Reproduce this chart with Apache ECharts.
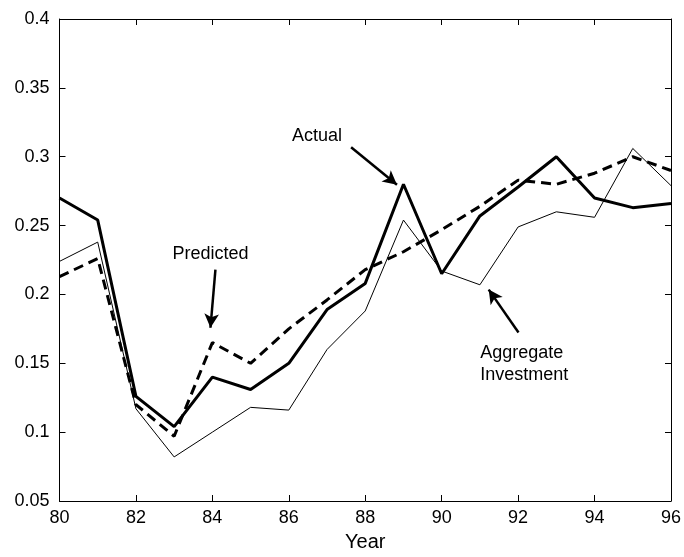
<!DOCTYPE html>
<html>
<head>
<meta charset="utf-8">
<script src="https://cdn.jsdelivr.net/npm/echarts@6/dist/echarts.min.js"></script>
<style>
html,body{margin:0;padding:0;background:#fff;}
#c{width:684px;height:557px;}
</style>
</head>
<body>
<div id="c"></div>
<script>
var years = [80,81,82,83,84,85,86,87,88,89,90,91,92,93,94,95,96];
var actual = [0.270,0.254,0.126,0.104,0.140,0.131,0.150,0.189,0.208,0.280,0.215,0.257,0.278,0.300,0.270,0.263,0.266];
var predicted = [0.213,0.226,0.120,0.097,0.165,0.150,0.175,0.196,0.218,0.231,0.247,0.264,0.283,0.280,0.288,0.300,0.290];
var aggregate = [0.224,0.238,0.117,0.082,0.100,0.118,0.116,0.160,0.188,0.254,0.217,0.207,0.249,0.260,0.256,0.306,0.279];
var xTicks = [80,82,84,86,88,90,92,94,96];
var yTicks = [0.05,0.1,0.15,0.2,0.25,0.3,0.35,0.4];

// annotation positions in data space
var labels = [
  {text:'Actual', x:86.74, y:0.3148, align:'center'},
  {text:'Predicted', x:83.95, y:0.2295, align:'center'},
  {text:'Aggregate\nInvestment', x:91.01, y:0.1493, align:'left'}
];
var arrows = [
  [[87.63,0.3069],[88.83,0.2797]],
  [[84.08,0.2180],[83.95,0.1758]],
  [[92.01,0.1724],[91.23,0.2035]]
];

function pairs(ys){ return years.map(function(x,i){return [x, ys[i]];}); }
var FONT = 'Liberation Sans, Arial, Helvetica, sans-serif';

var chart = echarts.init(document.getElementById('c'), null, {renderer:'canvas'});
var axisCommon = {
  type:'value',
  axisLine:{show:true, lineStyle:{color:'#000', width:1}},
  axisTick:{show:true, inside:true, length:6, lineStyle:{color:'#000'}},
  splitLine:{show:false}
};
chart.setOption({
  backgroundColor:'#fff',
  animation:false,
  grid:{left:59.5, right:11, top:19, bottom:49, containLabel:false},
  xAxis:[
    Object.assign({}, axisCommon, {
      min:80, max:96, interval:2, position:'bottom',
      name:'Year', nameLocation:'middle', nameGap:31,
      nameTextStyle:{fontFamily:FONT, fontSize:20, color:'#000'},
      axisLabel:{fontFamily:FONT, fontSize:18, color:'#000', margin:8,
        formatter:function(v){return xTicks.indexOf(v)>=0 ? String(v) : '';}}
    }),
    Object.assign({}, axisCommon, {
      min:80, max:96, interval:2, position:'top', axisLabel:{show:false}
    })
  ],
  yAxis:[
    Object.assign({}, axisCommon, {
      min:0.05, max:0.4, interval:0.05, position:'left',
      axisLabel:{fontFamily:FONT, fontSize:18, color:'#000', margin:10,
        formatter:function(v){return String(parseFloat(v.toFixed(2)));}}
    }),
    Object.assign({}, axisCommon, {
      min:0.05, max:0.4, interval:0.05, position:'right', axisLabel:{show:false}
    })
  ],
  series:[
    {name:'Aggregate Investment', type:'line', data:pairs(aggregate), showSymbol:false,
     lineStyle:{color:'#000', width:1}},
    {name:'Predicted', type:'line', data:pairs(predicted), showSymbol:false,
     lineStyle:{color:'#000', width:3, type:[10,6]}},
    {name:'Actual', type:'line', data:pairs(actual), showSymbol:false,
     lineStyle:{color:'#000', width:3},
     markLine:{
       silent:true, animation:false,
       symbol:['none','arrow'], symbolSize:[11,14],
       lineStyle:{color:'#000', width:2.5, type:'solid'},
       label:{show:false},
       data: arrows.map(function(a){return [{coord:a[0]},{coord:a[1]}];})
     }}
  ]
});

var gfx = labels.map(function(l){
  var p = chart.convertToPixel({gridIndex:0}, [l.x, l.y]);
  return {type:'text', x:p[0], y:p[1], silent:true,
    style:{text:l.text, fontFamily:FONT, fontSize:18, fill:'#000',
      textAlign:l.align, textVerticalAlign:'middle', lineHeight:22}};
});
chart.setOption({graphic:gfx});
</script>
</body>
</html>
